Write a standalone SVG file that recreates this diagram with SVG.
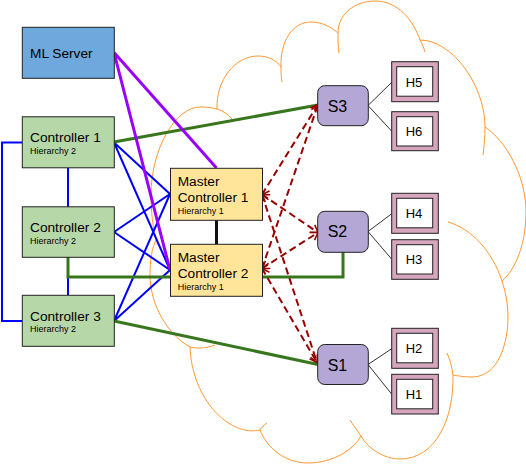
<svg xmlns="http://www.w3.org/2000/svg" width="526" height="464" viewBox="0 0 526 464">
<style>
text{font-family:"Liberation Sans",Arial,sans-serif;fill:#000}
.t{font-size:13.7px}
.s{font-size:9px}
.sw{font-size:16px}
.h{font-size:13px;text-anchor:middle}
.box{stroke:#222;stroke-width:1}
.cloud{fill:none;stroke:#ff9933;stroke-width:1}
.blue{stroke:#0000ff;stroke-width:2;fill:none}
.green{stroke:#38761d;stroke-width:3;fill:none}
.purple{stroke:#9900ff;stroke-width:3;fill:none}
.red{stroke:#990000;stroke-width:2;fill:none;stroke-dasharray:7,4;marker-start:url(#chev);marker-end:url(#chev)}
.thin{stroke:#333;stroke-width:1;fill:none}
</style>
<defs>
<marker id="chev" markerUnits="userSpaceOnUse" markerWidth="14" markerHeight="14" refX="0" refY="0" viewBox="-10 -7 14 14" orient="auto-start-reverse">
<path d="M-7,-4.5 L0,0 L-7,4.5" fill="none" stroke="#990000" stroke-width="1.6"/>
</marker>
</defs>
<g id="cloud">
<path class="cloud" d="M156,240 C153,228 151,212 151,195 C151,150 175,107 200,107 C208,107 213,108 217,109 C216,80 235,56 258,56 C268,56 276,60 281,67 C280,42 292,22 311,22 C322,22 331,27 338,33 C338,14 355,1 375,1 C398,1 413,20 420,40 C452,40 485,85 485,127 C505,140 526,175 526,212 C526,245 515,270 502,281 C506,293 508,305 508,317 C508,340 500,377 472,377 C465,377 458,376 453,375 C454,420 435,459 400,459 C385,459 369,450 361,436 C352,452 330,463 308,463 C285,463 267,448 260,430 C230,437 192,400 190,347 C168,335 150,305 150,275 C150,260 152,248 156,240 Z"/>
<path class="cloud" d="M217,109 C223,111 228,114 232,119 M281,67 C281,72 281,77 282,82 M338,33 C338,40 338,47 339,53 M420,40 C422,44 424,48 425,52 M485,127 C485,137 484,147 483,155 M448,222 C470,228 492,250 502,281 M447,353 C450,360 452,367 453,375 M361,436 C357,430 353,425 350,420 M260,430 C262,427 264,425 267,423 M190,347 C198,349 207,348 215,345 M156,240 C159,248 163,254 168,258"/>
</g>
<g id="connectors">
<path class="blue" d="M22,142.5 H2 V321 H22"/>
<path class="blue" d="M68,168 V207 M68,257 V295"/>
<path class="blue" d="M114,142.5 L170,194 M114,142.5 L170,270 M114,232 L170,194 M114,232 L170,270 M114,321 L170,194 M114,321 L170,270"/>
<path class="green" d="M68,257 V277 H343 V252"/>
<path class="green" d="M114,142 L318,105"/>
<path class="green" d="M114,321 L318,364.5"/>
<path class="purple" d="M114,52.5 L216.5,168 M114,52.5 L170,270"/>
<path d="M216.5,220 V244" stroke="#111" stroke-width="3"/>
<path class="red" d="M262,194.5 L318,104.5"/>
<path class="red" d="M262,194.5 L318,232.5"/>
<path class="red" d="M262,194.5 L317,362.5"/>
<path class="red" d="M262,268.5 L318,104.5"/>
<path class="red" d="M262,268.5 L318,232.5"/>
<path class="red" d="M262,268.5 L317,362.5"/>
<path class="thin" d="M368,105.5 L392,82 M368,105.5 L392,131.5 M368,231.5 L392,213.5 M368,231.5 L392,259.5 M368,364.5 L392,348.5 M368,364.5 L392,394.5"/>
</g>
<g id="ml-server">
<rect class="box" x="22.3" y="27.3" width="92" height="51" fill="#6fa8dc"/>
<text class="t" x="30" y="57.5">ML Server</text>
</g>
<g id="controller-1">
<rect class="box" x="22.3" y="116.8" width="92" height="51" fill="#b6d7a8"/>
<text class="t" x="30" y="142">Controller 1</text>
<text class="s" x="30" y="153.5">Hierarchy 2</text>
</g>
<g id="controller-2">
<rect class="box" x="22.3" y="206.8" width="92" height="50.5" fill="#b6d7a8"/>
<text class="t" x="30" y="232">Controller 2</text>
<text class="s" x="30" y="243.5">Hierarchy 2</text>
</g>
<g id="controller-3">
<rect class="box" x="22.3" y="295.3" width="92" height="51" fill="#b6d7a8"/>
<text class="t" x="30" y="320.5">Controller 3</text>
<text class="s" x="30" y="332">Hierarchy 2</text>
</g>
<g id="master-controller-1">
<rect class="box" x="170.5" y="168.3" width="92" height="52" fill="#ffe599"/>
<text class="t" x="177.7" y="186">Master</text>
<text class="t" x="177.7" y="202">Controller 1</text>
<text class="s" x="177.7" y="213.5">Hierarchy 1</text>
</g>
<g id="master-controller-2">
<rect class="box" x="170.5" y="244.3" width="92" height="52" fill="#ffe599"/>
<text class="t" x="177.7" y="262">Master</text>
<text class="t" x="177.7" y="278">Controller 2</text>
<text class="s" x="177.7" y="289.5">Hierarchy 1</text>
</g>
<g id="s3">
<rect class="box" x="317.7" y="85.7" width="50.6" height="40" rx="7" fill="#b4a7d6"/>
<text class="sw" x="327.7" y="111.7">S3</text>
</g>
<g id="s2">
<rect class="box" x="317.7" y="211.3" width="50.6" height="41" rx="7" fill="#b4a7d6"/>
<text class="sw" x="327.7" y="237">S2</text>
</g>
<g id="s1">
<rect class="box" x="317.7" y="344.5" width="50.6" height="40" rx="7" fill="#b4a7d6"/>
<text class="sw" x="327.7" y="370.5">S1</text>
</g>
<g id="h5">
<rect class="box" x="391.7" y="61.7" width="46.6" height="40" fill="#d5a6bd"/>
<rect class="box" x="396.7" y="66.7" width="36" height="29.5" fill="#fff"/>
<text class="h" x="414" y="86.7">H5</text>
</g>
<g id="h6">
<rect class="box" x="391.7" y="111.7" width="46.6" height="39" fill="#d5a6bd"/>
<rect class="box" x="396.7" y="116.7" width="36" height="29.3" fill="#fff"/>
<text class="h" x="414" y="136.3">H6</text>
</g>
<g id="h4">
<rect class="box" x="391.7" y="193.3" width="46.6" height="40" fill="#d5a6bd"/>
<rect class="box" x="396.7" y="198.3" width="36" height="29.5" fill="#fff"/>
<text class="h" x="414" y="218.3">H4</text>
</g>
<g id="h3">
<rect class="box" x="391.7" y="239.7" width="46.6" height="39.6" fill="#d5a6bd"/>
<rect class="box" x="396.7" y="244.7" width="36" height="29.3" fill="#fff"/>
<text class="h" x="414" y="264">H3</text>
</g>
<g id="h2">
<rect class="box" x="391.7" y="328.3" width="46.6" height="40" fill="#d5a6bd"/>
<rect class="box" x="396.7" y="333.3" width="36" height="29.5" fill="#fff"/>
<text class="h" x="414" y="353.3">H2</text>
</g>
<g id="h1">
<rect class="box" x="391.7" y="374.3" width="46.6" height="39.7" fill="#d5a6bd"/>
<rect class="box" x="396.7" y="379.3" width="36" height="29.5" fill="#fff"/>
<text class="h" x="414" y="399.3">H1</text>
</g>
</svg>
